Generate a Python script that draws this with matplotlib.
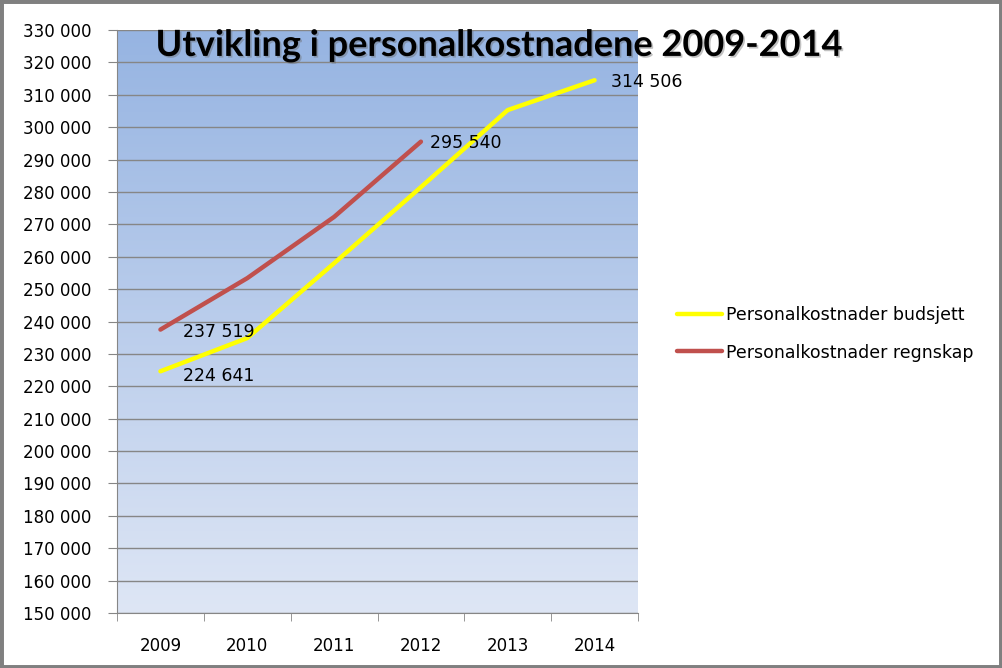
import numpy as np
import matplotlib.pyplot as plt
import matplotlib.patheffects as pe
from matplotlib.patches import Rectangle

plt.rcParams['font.family'] = ['DejaVu Sans']

years = ['2009', '2010', '2011', '2012', '2013', '2014']
budsjett = [224641, 234900, 258000, 281500, 305300, 314506]
regnskap = [237519, 253400, 272300, 295540]
label_budsjett = ['224 641', None, None, None, None, '314 506']
label_regnskap = ['237 519', None, None, '295 540']

fig = plt.figure(figsize=(10.02, 6.68), dpi=100)
ax = fig.add_axes([0.1168, 0.0823, 0.5199, 0.8727])

x_b = np.arange(len(budsjett))
x_r = np.arange(len(regnskap))

# gradient bakgrunn
top = np.array([150, 180, 226]) / 255
bot = np.array([222, 230, 245]) / 255
t = np.linspace(0, 1, 256)[:, None]
grad = (top * (1 - t) + bot * t)[:, None, :]
ax.imshow(grad, extent=[-0.5, 5.5, 150000, 330000], aspect='auto',
          origin='upper', zorder=0)

ax.plot(x_b, budsjett, color='#ffff00', lw=3.2, solid_capstyle='round',
        label='Personalkostnader budsjett', zorder=3)
ax.plot(x_r, regnskap, color='#c0504d', lw=3.2, solid_capstyle='round',
        label='Personalkostnader regnskap', zorder=3)

# dataetiketter
offs_b = {0: (16, -3.5), 5: (12, -1.5)}
offs_r = {0: (16, -1.5), 3: (6.5, -1)}
for xi, v, lab in zip(x_b, budsjett, label_budsjett):
    if lab:
        ax.annotate(lab, (xi, v), xytext=offs_b[xi], textcoords='offset points',
                    ha='left', va='center', fontsize=12.5, zorder=4)
for xi, v, lab in zip(x_r, regnskap, label_regnskap):
    if lab:
        ax.annotate(lab, (xi, v), xytext=offs_r[xi], textcoords='offset points',
                    ha='left', va='center', fontsize=12.5, zorder=4)

ax.set_xlim(-0.5, 5.5)
ax.set_ylim(150000, 330000)
ax.set_yticks(np.arange(150000, 330001, 10000))
ax.set_yticklabels([f'{v:,}'.replace(',', ' ') for v in range(150000, 330001, 10000)],
                   fontsize=12)
ax.set_xticks(x_b)
ax.set_xticklabels(years, fontsize=12)
ax.set_xticks(np.arange(-0.5, 6, 1), minor=True)
ax.tick_params(axis='x', which='major', length=0, pad=17)
ax.tick_params(axis='x', which='minor', length=6, color='#868686')
ax.tick_params(axis='y', length=6.5, color='#868686', pad=12)
ax.grid(axis='y', color='#868686', lw=1, zorder=1)
ax.set_axisbelow(False)
for s in ['top', 'right']:
    ax.spines[s].set_visible(False)
for s in ['left', 'bottom']:
    ax.spines[s].set_color('#868686')

fig.text(0.498, 0.932, 'Utvikling i personalkostnadene 2009-2014', ha='center',
         va='center', fontsize=26, fontweight='bold', family='Lato', zorder=5,
         path_effects=[pe.withSimplePatchShadow(offset=(1.2, -1.2),
                                                 shadow_rgbFace='#666666', alpha=0.4)])

leg = fig.legend(loc='center left', bbox_to_anchor=(0.66, 0.5), frameon=False,
                 fontsize=12.5, handlelength=2.6, handletextpad=0.2, labelspacing=1.1)

fig.patches.append(Rectangle((0, 0), 1, 1, transform=fig.transFigure, fill=False,
                             edgecolor='#808080', lw=5))

fig.savefig('out.png', dpi=100)
